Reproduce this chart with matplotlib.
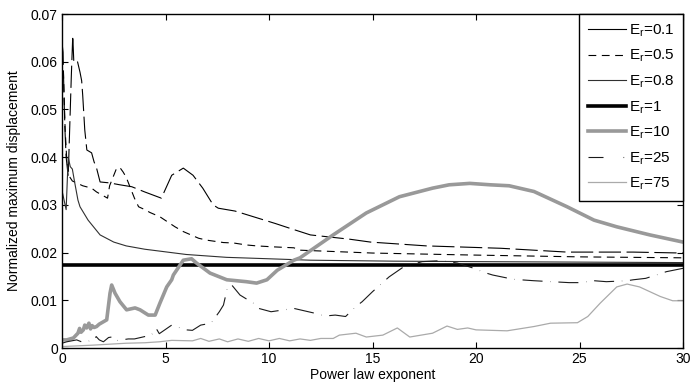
import matplotlib
matplotlib.use("Agg")
import matplotlib.pyplot as plt

plt.rcParams['font.family'] = ['Liberation Sans', 'DejaVu Sans']
plt.rcParams['mathtext.fontset'] = 'custom'
plt.rcParams['mathtext.rm'] = 'Liberation Sans'
plt.rcParams['mathtext.it'] = 'Liberation Sans'

labels = [r'$\mathrm{E_r}$=0.1', r'$\mathrm{E_r}$=0.5', r'$\mathrm{E_r}$=0.8', r'$\mathrm{E_r}$=1',
          r'$\mathrm{E_r}$=10', r'$\mathrm{E_r}$=25', r'$\mathrm{E_r}$=75']

# E_r = 0.1
x01 = [0, 0.05, 0.1, 0.15, 0.2, 0.3, 0.4, 0.45, 0.52, 0.57, 0.63, 0.75, 0.87, 0.95, 1.0, 1.1, 1.2,
       1.43, 1.55, 1.67, 1.84, 2.3, 2.8, 3.37, 4.0, 4.8, 5.3, 5.86, 6.33, 6.8, 7.3, 7.55, 8.36,
       10.3, 11.0, 12.0, 13.9, 14.9, 17.6, 21.2, 24.4, 27.6, 30]
y01 = [0.064, 0.062, 0.052, 0.045, 0.040, 0.036, 0.050, 0.057, 0.0655, 0.060, 0.0597, 0.060, 0.0578,
       0.056, 0.053, 0.0457, 0.0415, 0.0409, 0.039, 0.0377, 0.0348, 0.0346, 0.0342, 0.0338, 0.0327,
       0.0314, 0.0362, 0.0377, 0.0362, 0.0335, 0.0300, 0.0293, 0.0287, 0.0261, 0.0251, 0.0237,
       0.0228, 0.0222, 0.0214, 0.0209, 0.0201, 0.0201, 0.0199]

# E_r = 0.5
x05 = [0, 0.07, 0.15, 0.23, 0.35, 0.5, 0.71, 1.0, 1.43, 1.67, 2.08, 2.2, 2.3, 2.64, 2.8, 2.95, 3.1,
       3.5, 3.7, 4.0, 4.25, 4.73, 5.46, 5.86, 6.6, 7.0, 7.8, 8.3, 8.9, 9.4, 10.2, 11.2, 11.5, 15.0,
       19.6, 25.0, 30]
y05 = [0.058, 0.0576, 0.046, 0.0394, 0.036, 0.035, 0.0346, 0.034, 0.0335, 0.0327, 0.0317, 0.0314,
       0.0340, 0.0377, 0.0378, 0.0369, 0.0358, 0.0314, 0.0296, 0.0290, 0.0284, 0.0275, 0.0254,
       0.0244, 0.0230, 0.0226, 0.0221, 0.0220, 0.0216, 0.0214, 0.0212, 0.0210, 0.0205, 0.0199,
       0.0195, 0.0191, 0.0189]

# E_r = 0.8
x08 = [0, 0.1, 0.2, 0.3, 0.4, 0.5, 0.6, 0.77, 0.87, 1.26, 1.84, 2.5, 3.1, 4.0, 4.73, 6.0, 7.95,
       10.0, 12.0, 16.0, 20.0, 25.0, 30]
y08 = [0.033, 0.031, 0.029, 0.040, 0.038, 0.0375, 0.035, 0.031, 0.0296, 0.0268, 0.0237, 0.0222,
       0.0214, 0.0207, 0.0203, 0.0196, 0.0190, 0.0187, 0.0184, 0.0182, 0.0181, 0.0180, 0.0179]

# E_r = 1
x1 = [0, 30]
y1 = [0.0174, 0.0174]

# E_r = 10
x10 = [0, 0.23, 0.55, 0.77, 0.85, 0.92, 1.03, 1.1, 1.19, 1.3, 1.38, 1.45, 1.55, 1.67, 1.8, 2.0,
       2.16, 2.32, 2.4, 2.56, 2.8, 3.12, 3.53, 3.77, 4.17, 4.5, 4.73, 5.06, 5.3, 5.38, 5.86, 6.26,
       6.5, 7.15, 7.96, 8.9, 9.4, 9.9, 10.4, 11.2, 11.5, 13.1, 14.7, 16.3, 17.9, 18.7, 19.7, 20.7,
       21.6, 22.8, 24.4, 25.7, 26.8, 28.4, 30]
y10 = [0.0017, 0.0017, 0.0021, 0.0031, 0.0041, 0.0033, 0.0038, 0.0048, 0.0042, 0.0052, 0.0040,
       0.0047, 0.0043, 0.0045, 0.0050, 0.0055, 0.0059, 0.0115, 0.0132, 0.0115, 0.0097, 0.0080,
       0.0084, 0.0080, 0.0069, 0.0069, 0.0094, 0.0128, 0.0143, 0.0153, 0.0184, 0.0187, 0.0178,
       0.0157, 0.0143, 0.0139, 0.0136, 0.0143, 0.0163, 0.0184, 0.0189, 0.0237, 0.0283, 0.0317,
       0.0335, 0.0342, 0.0345, 0.0342, 0.0340, 0.0328, 0.0296, 0.0268, 0.0254, 0.0237, 0.0222]

# E_r = 25
x25 = [0, 0.23, 0.71, 1.0, 1.56, 1.65, 1.8, 2.0, 2.25, 2.4, 2.56, 3.2, 3.5, 4.0, 4.3, 4.55, 4.7,
       5.2, 5.3, 6.0, 6.3, 6.7, 7.2, 7.6, 7.8, 8.0, 8.2, 8.6, 9.24, 9.5, 10.1, 11.2, 11.9, 12.2,
       12.7, 13.2, 13.7, 14.2, 14.5, 15.0, 15.8, 16.5, 17.4, 18.3, 19.1, 19.9, 20.5, 20.8, 21.8,
       22.8, 24.5, 25.0, 25.7, 26.3, 27.3, 27.6, 28.2, 29.2, 30]
y25 = [0.0010, 0.0013, 0.0017, 0.0012, 0.0017, 0.0024, 0.0017, 0.0013, 0.0022, 0.0023, 0.0015,
       0.0019, 0.0019, 0.0024, 0.0026, 0.0041, 0.0030, 0.0045, 0.0048, 0.0038, 0.0037, 0.0048,
       0.0052, 0.0076, 0.0090, 0.0128, 0.0132, 0.0111, 0.0094, 0.0083, 0.0076, 0.0083, 0.0076,
       0.0073, 0.0067, 0.0069, 0.0066, 0.0087, 0.0097, 0.0118, 0.0149, 0.0170, 0.0181, 0.0183,
       0.0178, 0.0167, 0.0157, 0.0153, 0.0144, 0.0141, 0.0137, 0.0137, 0.0141, 0.0139, 0.0141,
       0.0143, 0.0146, 0.0160, 0.0167]

# E_r = 75
x75 = [0, 1.5, 3.1, 4.0, 4.7, 5.3, 6.3, 6.7, 7.1, 7.6, 8.0, 8.5, 9.0, 9.5, 10.0, 10.5, 11.0, 11.5,
       12.0, 12.5, 13.1, 13.4, 14.2, 14.7, 15.5, 16.2, 16.8, 17.9, 18.6, 19.1, 19.6, 20.0, 21.5,
       22.8, 23.6, 24.9, 25.4, 26.0, 26.8, 27.3, 27.9, 28.9, 29.5, 30]
y75 = [0.0003, 0.0006, 0.0010, 0.0011, 0.0013, 0.0016, 0.0015, 0.0020, 0.0014, 0.0019, 0.0013,
       0.0019, 0.0014, 0.0020, 0.0015, 0.0020, 0.0015, 0.0019, 0.0016, 0.0020, 0.0020, 0.0027,
       0.0031, 0.0023, 0.0027, 0.0042, 0.0023, 0.0031, 0.0046, 0.0039, 0.0042, 0.0038, 0.0036,
       0.0045, 0.0052, 0.0053, 0.0066, 0.0094, 0.0128, 0.0134, 0.0128, 0.0108, 0.0099, 0.0099]

xticks = [0, 5, 10, 15, 20, 25, 30]
yticks = [0, 0.01, 0.02, 0.03, 0.04, 0.05, 0.06, 0.07]
ytick_labels = ['0', '0.01', '0.02', '0.03', '0.04', '0.05', '0.06', '0.07']

fig = plt.figure(figsize=(6.91, 3.86), dpi=100)
ax = fig.add_axes([62/691, 1-348/386, (683-62)/691, (348-14)/386])

ax.plot(x01, y01, color='black', lw=0.8, ls=(0, (20, 5)), label=labels[0])
ax.plot(x05, y05, color='black', lw=0.8, ls=(0, (7, 5)), label=labels[1])
ax.plot(x08, y08, color='#303030', lw=0.8, ls='-', label=labels[2])
ax.plot(x1, y1, color='black', lw=2.6, label=labels[3])
ax.plot(x10, y10, color='#999999', lw=2.6, label=labels[4])
ax.plot(x25, y25, color='#1a1a1a', lw=0.8, ls=(0, (18, 7, 0.3, 7)), label=labels[5])
ax.plot(x75, y75, color='#aaaaaa', lw=0.9, label=labels[6])

ax.set_xlim(0, 30)
ax.set_ylim(0, 0.07)
ax.set_xticks(xticks)
ax.set_yticks(yticks)
ax.set_yticklabels(ytick_labels)
ax.tick_params(direction='in', length=4, top=True, right=True, labelsize=10, pad=3, width=0.8)
for s in ax.spines.values():
    s.set_linewidth(1.0)
ax.set_xlabel('Power law exponent', fontsize=10, labelpad=1)
ax.set_ylabel('Normalized maximum displacement', fontsize=10, labelpad=7)

leg = ax.legend(loc='upper right', bbox_to_anchor=(1, 1), borderaxespad=0, fontsize=11,
                handlelength=2.5, handletextpad=0.2, labelspacing=0.6, borderpad=0.55,
                fancybox=False, frameon=True, edgecolor='black', framealpha=1)
leg.get_frame().set_linewidth(1.0)
leg_lines = leg.get_lines()
leg_lines[0].set_linestyle('-')
leg_lines[5].set_linestyle((0, (13.5, 18, 0.6, 10)))

fig.savefig('out.png', dpi=100)
